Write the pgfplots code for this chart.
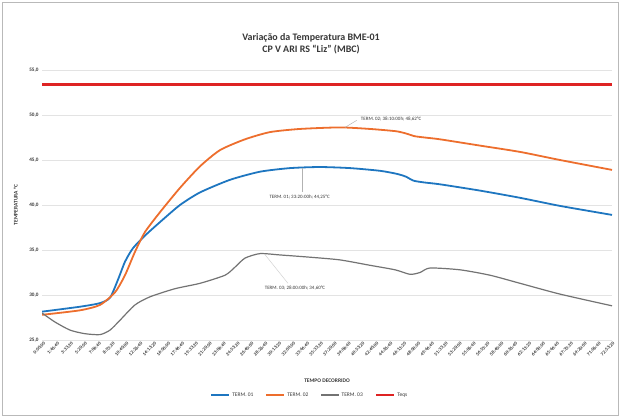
\documentclass[border=0pt]{standalone}
\usepackage{pgfplots}
\pgfplotsset{compat=1.18}
\usepackage{fontspec}
\setmainfont{Carlito}
\definecolor{cblue}{RGB}{30,118,192}
\definecolor{corange}{RGB}{237,110,45}
\definecolor{cgrey}{RGB}{115,115,115}
\definecolor{cred}{RGB}{222,35,35}
\definecolor{ctext}{RGB}{55,55,55}
\begin{document}
\begin{tikzpicture}[x=1bp,y=1bp]
\useasboundingbox (0,0) rectangle (621,418);
\draw[gray!55,line width=1.2bp] (2.5,2.5) rectangle (618.5,415.5);
\node[font=\bfseries\fontsize{10}{12}\selectfont,text=ctext,align=center] at (311,374) {Variação da Temperatura BME-01\\CP V ARI RS “Liz” (MBC)};
\begin{axis}[
  at={(42bp,78bp)}, anchor=south west,
  scale only axis, width=570bp, height=270bp,
  xmin=0, xmax=73, ymin=25, ymax=55,
  ytick={25,30,...,55},
  yticklabel style={/pgf/number format/.cd,fixed,fixed zerofill,precision=1,use comma},
  /pgf/number format/assume math mode=true,
  ymajorgrids, grid style={gray!22,line width=0.6bp},
  axis line style={draw=none},
  major tick length=0pt,
  tick label style={font=\bfseries\fontsize{5.2}{6}\selectfont,text=ctext},
  xtick={0,1.7778,3.5556,5.3333,7.1111,8.8889,10.6667,12.4444,14.2222,16,17.7778,19.5556,21.3333,23.1111,24.8889,26.6667,28.4444,30.2222,32,33.7778,35.5556,37.3333,39.1111,40.8889,42.6667,44.4444,46.2222,48,49.7778,51.5556,53.3333,55.1111,56.8889,58.6667,60.4444,62.2222,64,65.7778,67.5556,69.3333,71.1111,72.8889},
  xticklabels={0:00:00,1:46:40,3:33:20,5:20:00,7:06:40,8:53:20,10:40:00,12:26:40,14:13:20,16:00:00,17:46:40,19:33:20,21:20:00,23:06:40,24:53:20,26:40:00,28:26:40,30:13:20,32:00:00,33:46:40,35:33:20,37:20:00,39:06:40,40:53:20,42:40:00,44:26:40,46:13:20,48:00:00,49:46:40,51:33:20,53:20:00,55:06:40,56:53:20,58:40:00,60:26:40,62:13:20,64:00:00,65:46:40,67:33:20,69:20:00,71:06:40,72:53:20},
  xticklabel style={rotate=45,anchor=north east,inner sep=0pt,font=\bfseries\fontsize{4.8}{5}\selectfont,yshift=-2bp},
  xlabel={\bfseries TEMPO DECORRIDO},
  xlabel style={at={(axis description cs:0.5,-0.15)},anchor=center,font=\fontsize{5.5}{6}\selectfont,text=ctext},
  ylabel={\bfseries TEMPERATURA °C},
  ylabel style={at={(axis description cs:-0.046,0.5)},anchor=center,font=\fontsize{5.5}{6}\selectfont,text=ctext},
  legend columns=4,
  legend style={at={(0.47,-0.204)},anchor=center,draw=none,fill=none,font=\fontsize{5.5}{6}\selectfont,text=ctext,/tikz/every even column/.append style={column sep=10bp}},
  legend image code/.code={\draw[#1] (0bp,0bp) -- (18bp,0bp);},
]
\addplot[cblue,line width=1.8bp,smooth,tension=0.4] coordinates {
(0,28.15) (4.87,28.7) (7.43,29.1) (8.71,29.7) (9.73,31.7) (10.63,33.7) (11.65,35.2) (13.19,36.6) (15.11,38.1) (17.67,40.0) (20.24,41.4) (24.08,42.8) (27.92,43.7) (31.76,44.1) (35.60,44.22) (39.45,44.1) (43.29,43.8) (45.5,43.45) (46.6,43.15) (47.6,42.7) (49,42.5) (50.97,42.3) (56.09,41.6) (61.22,40.8) (66.34,39.9) (73,38.9)};
\addlegendentry{TERM. 01}
\addplot[corange,line width=1.8bp,smooth,tension=0.4] coordinates {
(0,27.8) (4.87,28.3) (7.43,28.9) (9.35,30.3) (10.63,32.2) (11.91,34.8) (13.19,37.0) (15.11,39.2) (17.67,41.9) (20.24,44.3) (22.80,46.1) (26.0,47.3) (29.20,48.1) (33.04,48.45) (38.16,48.62) (42.01,48.45) (45.3,48.2) (46.6,47.95) (47.7,47.65) (49,47.5) (50.97,47.3) (56.09,46.6) (61.22,45.9) (66.34,45.0) (73,43.9)};
\addlegendentry{TERM. 02}
\addplot[cgrey,line width=1.2bp,smooth,tension=0.4] coordinates {
(0,28.0) (1.66,27.0) (3.59,26.1) (5.51,25.7) (7.43,25.6) (8.71,26.1) (9.99,27.2) (11.91,28.9) (13.83,29.8) (17.03,30.7) (20.24,31.3) (23.44,32.2) (24.72,33.1) (26.0,34.1) (27.92,34.6) (30.48,34.45) (34.32,34.2) (38.16,33.9) (42.01,33.3) (45.21,32.8) (47.13,32.3) (48.41,32.5) (49.69,33.0) (53.53,32.8) (57.37,32.2) (61.22,31.3) (66.34,30.1) (73,28.8)};
\addlegendentry{TERM. 03}
\addplot[cred,line width=2.6bp] coordinates {(0,53.4) (73,53.4)};
\addlegendentry{Teqs}
\draw[gray!60,line width=0.5bp] (axis cs:38.8,48.62) -- (axis cs:40.3,49.4);
\node[font=\fontsize{5}{6}\selectfont,text=ctext,anchor=west] at (axis cs:40.4,49.6) {TERM. 02; 38:10:00h; 48,62°C};
\draw[gray!60,line width=0.5bp] (axis cs:33.3,44.15) -- (axis cs:33.3,41.5);
\node[font=\fontsize{5}{6}\selectfont,text=ctext] at (axis cs:33.0,40.9) {TERM. 01; 33:20:00h; 44,25°C};
\draw[gray!35,line width=0.5bp] (axis cs:28.5,34.55) -- (axis cs:31.5,31.3);
\node[font=\fontsize{5}{6}\selectfont,text=ctext] at (axis cs:32.4,30.8) {TERM. 03; 28:00:00h; 34,60°C};
\end{axis}
\end{tikzpicture}
\end{document}
